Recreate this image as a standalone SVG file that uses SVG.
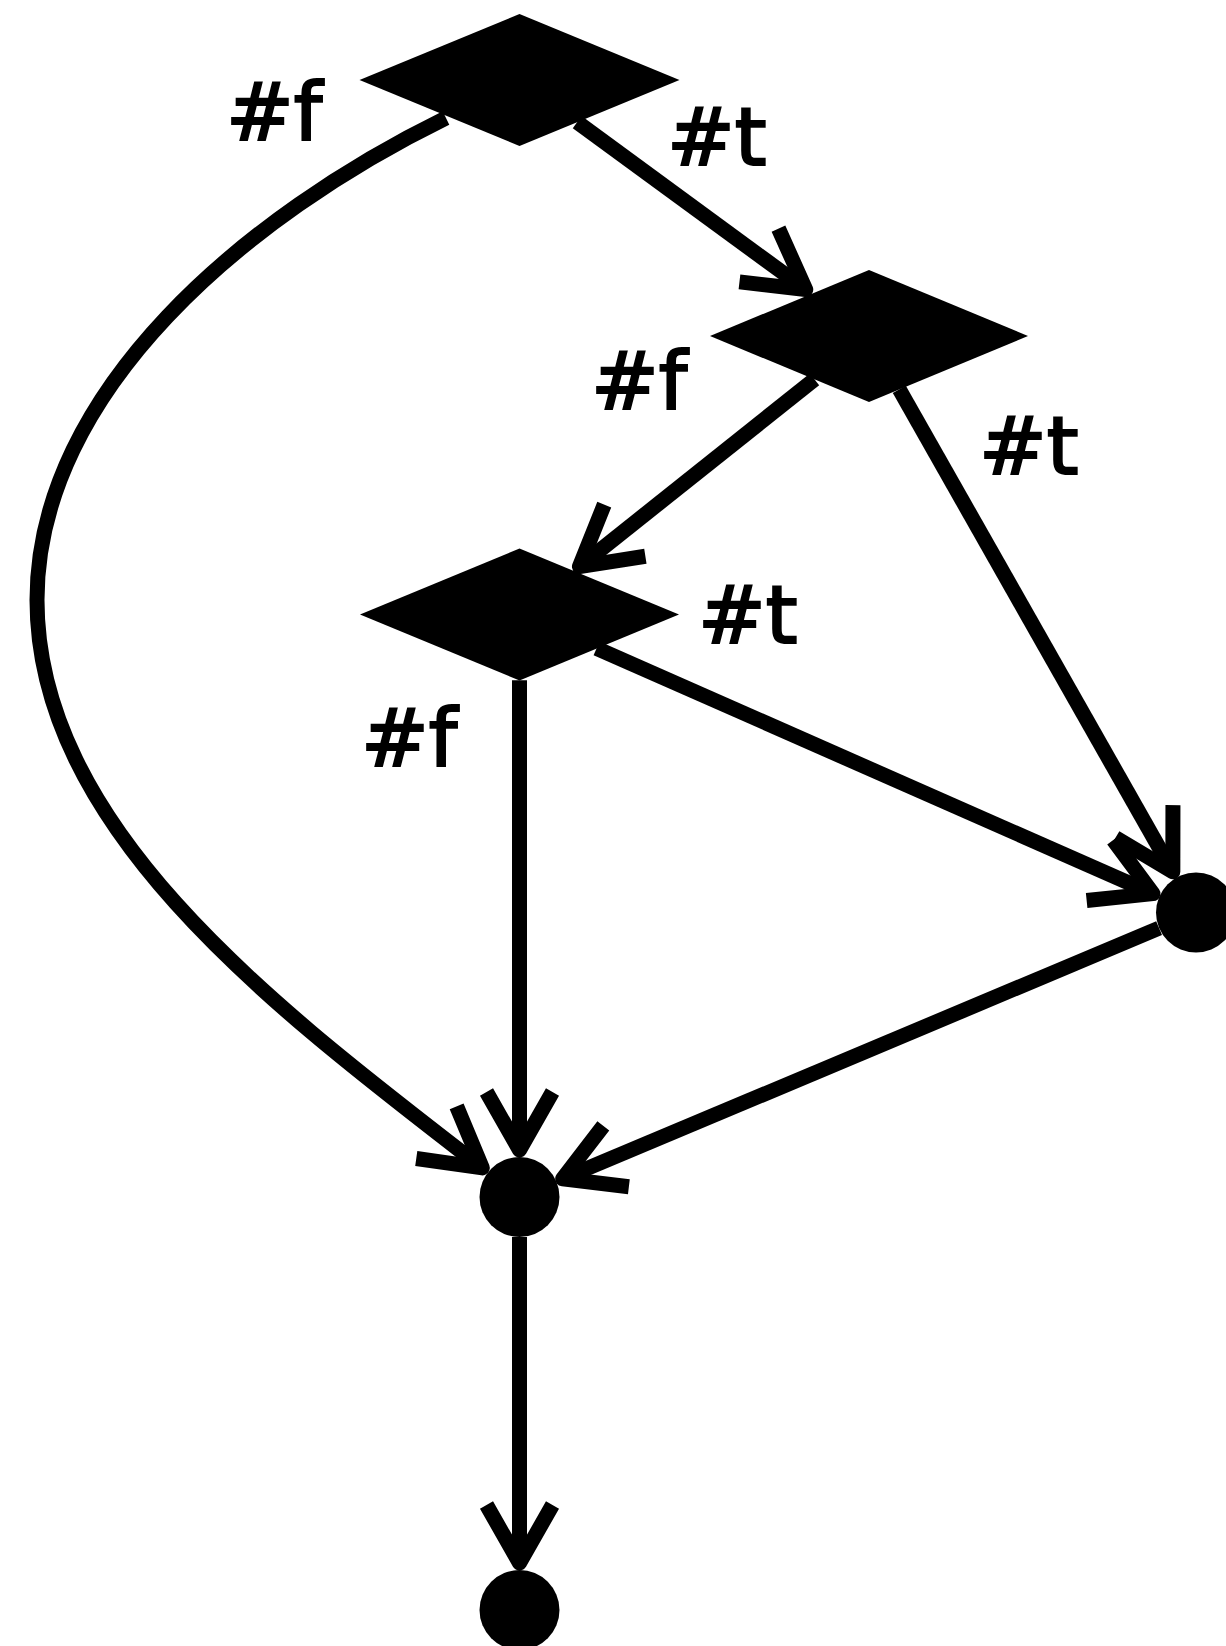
<svg xmlns="http://www.w3.org/2000/svg" width="1226" height="1646" viewBox="0 0 1226 1646">
  <style>
    .node { fill: #000; stroke: none; }
    .edge { fill: none; stroke: #000; stroke-width: 15; stroke-linecap: butt; }
    .lbl { font-family: "DejaVu Sans", sans-serif; font-weight: normal; font-size: 81px; fill: #000; stroke: #000; stroke-width: 2.2; }
  </style>
  <defs>
    <marker id="vee" markerUnits="userSpaceOnUse" orient="auto" refX="0" refY="0" markerWidth="200" markerHeight="200" viewBox="-100 -100 200 200" overflow="visible">
      <path d="M-50,-33 L8,0 L-50,33" fill="none" stroke="#000" stroke-width="15" stroke-linejoin="round" stroke-linecap="butt"/>
    </marker>
  </defs>
  <rect width="1226" height="1646" fill="#fff"/>
  <g id="connectors">
    <path class="edge" marker-end="url(#vee)" d="M577.2,122.1 L799.3,284.8"/>
    <path class="edge" marker-end="url(#vee)" d="M446,118 C248,214.8 37,390 37,600 C37,830 278.2,1010 476,1163"/>
    <path class="edge" marker-end="url(#vee)" d="M814.5,379.4 L585.7,561.6"/>
    <path class="edge" marker-end="url(#vee)" d="M899.3,389.4 L1168.9,864.9"/>
    <path class="edge" marker-end="url(#vee)" d="M596.6,648.4 L1145.7,890.4"/>
    <path class="edge" marker-end="url(#vee)" d="M519.5,680.3 L519.5,1142"/>
    <path class="edge" marker-end="url(#vee)" d="M1159.1,928.2 L570,1175.7"/>
    <path class="edge" marker-end="url(#vee)" d="M519.5,1237 L519.5,1555"/>
  </g>
  <g id="labels">
    <text class="lbl" x="226" y="140">#f</text>
    <text class="lbl" x="667" y="165">#t</text>
    <text class="lbl" x="591" y="409">#f</text>
    <text class="lbl" x="979" y="474">#t</text>
    <text class="lbl" x="698" y="643">#t</text>
    <text class="lbl" x="361" y="766">#f</text>
  </g>
  <g id="d1"><polygon class="node" points="519.5,14 679.5,80 519.5,146 359.5,80"/></g>
  <g id="d2"><polygon class="node" points="869,270 1028,336 869,402 710,336"/></g>
  <g id="d3"><polygon class="node" points="519.5,548.5 679,614.5 519.5,680.5 360,614.5"/></g>
  <g id="a"><circle class="node" cx="1196" cy="912.5" r="40"/></g>
  <g id="b"><circle class="node" cx="519.5" cy="1197" r="40"/></g>
  <g id="c"><circle class="node" cx="519.5" cy="1610" r="40"/></g>
</svg>
